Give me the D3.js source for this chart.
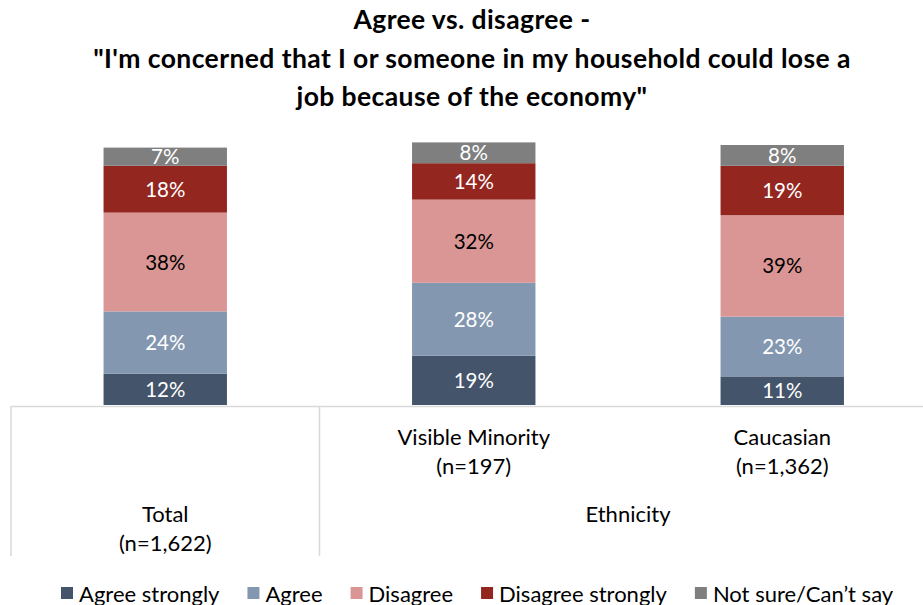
<!DOCTYPE html>
<html><head><meta charset="utf-8">
<script src="https://cdn.jsdelivr.net/npm/d3@7/dist/d3.min.js"></script>
<style>body{margin:0;background:#fff}svg{display:block}text{font-family:Lato,"Open Sans",sans-serif}</style>
</head><body><svg id="c" width="923" height="605"></svg>
<script>
const titleLines = ["Agree vs. disagree -", "\"I'm concerned that I or someone in my household could lose a", "job because of the economy\""];
const categories = ["Total", "Visible Minority", "Caucasian"];
const categorySubs = ["(n=1,622)", "(n=197)", "(n=1,362)"];
const groups = ["", "Ethnicity", "Ethnicity"];
const seriesNames = ["Agree strongly", "Agree", "Disagree", "Disagree strongly", "Not sure/Can\u2019t say"];
const agreeStrongly = [12, 19, 11];
const agree = [24, 28, 23];
const disagree = [38, 32, 39];
const disagreeStrongly = [18, 14, 19];
const notSure = [7, 8, 8];
const colors = ["#44546a", "#8497b0", "#da9694", "#93261f", "#7f7f7f"];
const labelColors = ["#fff", "#fff", "#000", "#fff", "#fff"];

const series = [agreeStrongly, agree, disagree, disagreeStrongly, notSure];
const data = categories.map((c, i) => {
  const o = {cat: c};
  seriesNames.forEach((s, j) => o[s] = series[j][i]);
  return o;
});
const stack = d3.stack().keys(seriesNames)(data);

const svg = d3.select("#c");
const x = d3.scaleBand().domain(categories).range([11, 936.5]).paddingInner(0.6).paddingOuter(0.3);
const y = d3.scaleLinear().domain([0, 100]).range([405, 145]);

// title
svg.append("g").selectAll("text").data(titleLines).join("text")
  .attr("x", 472).attr("y", (d, i) => 29 + i * 38.5)
  .attr("text-anchor", "middle").attr("font-size", 26.5).attr("letter-spacing", 0.4)
  .attr("font-weight", "bold").attr("fill", "#000")
  .text(d => d);

// bars
const g = svg.append("g");
stack.forEach((layer, j) => {
  g.selectAll(null).data(layer).join("rect")
    .attr("x", d => x(d.data.cat)).attr("width", x.bandwidth())
    .attr("y", d => y(d[1])).attr("height", d => y(d[0]) - y(d[1]))
    .attr("fill", colors[j]);
  g.selectAll(null).data(layer).join("text")
    .attr("x", d => x(d.data.cat) + x.bandwidth() / 2)
    .attr("y", d => (y(d[0]) + y(d[1])) / 2 + 7.5)
    .attr("text-anchor", "middle").attr("font-size", 20.5).attr("fill", labelColors[j])
    .text(d => (d[1] - d[0]) + "%");
});

// category table
const step = x.step();
const left = x.range()[0];
const lineColor = "#d9d9d9";
const fs = 22;
const tg = svg.append("g");
tg.append("line").attr("x1", left).attr("x2", 923).attr("y1", 406.5).attr("y2", 406.5).attr("stroke", lineColor).attr("stroke-width", 1.5);
[left, left + step].forEach(px => {
  tg.append("line").attr("x1", px).attr("x2", px).attr("y1", 406).attr("y2", 556).attr("stroke", lineColor).attr("stroke-width", 1.5);
});
categories.forEach((c, i) => {
  const cx = x(c) + x.bandwidth() / 2;
  const base = groups[i] === "" ? 522 : 445;
  tg.append("text").attr("x", cx).attr("y", base).attr("text-anchor", "middle").attr("font-size", fs).attr("fill", "#000").text(c);
  tg.append("text").attr("x", cx).attr("y", base + 29).attr("text-anchor", "middle").attr("font-size", fs).attr("fill", "#000").text(categorySubs[i]);
});
tg.append("text").attr("x", left + step * 2).attr("y", 522).attr("text-anchor", "middle").attr("font-size", fs).attr("fill", "#000").text("Ethnicity");

// legend
const lg = svg.append("g");
let lx = 61;
seriesNames.forEach((s, j) => {
  lg.append("rect").attr("x", lx).attr("y", 587).attr("width", 12).attr("height", 12).attr("fill", colors[j]);
  const t = lg.append("text").attr("x", lx + 18).attr("y", 601.5).attr("font-size", fs).attr("fill", "#000").text(s);
  lx += 18 + t.node().getComputedTextLength() + 28;
});
</script></body></html>
